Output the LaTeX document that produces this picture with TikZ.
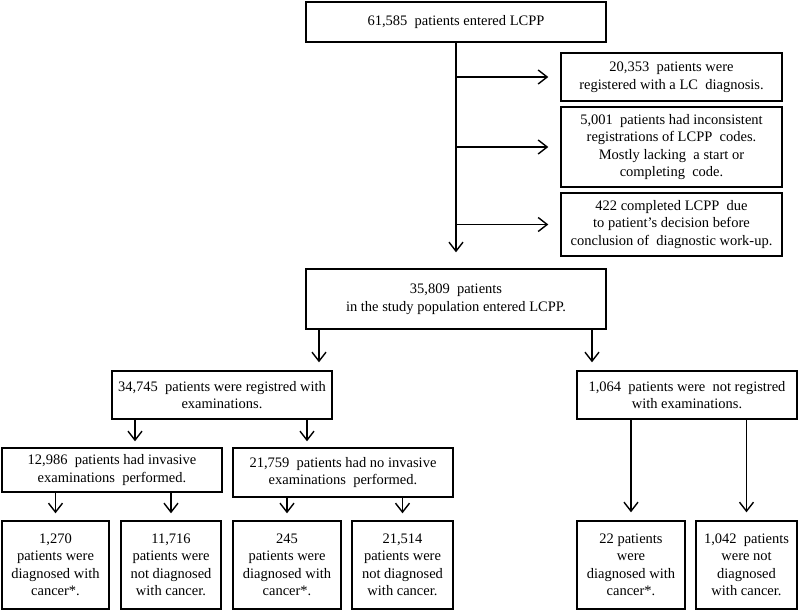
\documentclass[tikz,border=0pt]{standalone}
\usepackage{fontspec}
\setmainfont{Liberation Serif}
\usetikzlibrary{arrows.meta}
\begin{document}
\begin{tikzpicture}[x=1pt,y=-1pt,
  box/.style={draw, line width=1.4pt, align=center, inner sep=2pt,
    font=\fontsize{14.5}{17.5}\selectfont},
  arr/.style={draw, line width=1.4pt, -{Straight Barb[length=9pt,width=14pt,line width=1.4pt]}}]
\useasboundingbox[fill=white] (0,0) rectangle (800,612);
% boxes
\node[box, minimum width=300pt, minimum height=40pt] (top) at (456,22) {61,585\ \ patients entered LCPP};
\node[box, minimum width=221pt, minimum height=48pt] (r1) at (671.5,77) {20,353\ \ patients were\\registered with a LC\ \ diagnosis.};
\node[box, minimum width=221pt, minimum height=80pt] (r2) at (671.5,147) {5,001\ \ patients had inconsistent\\registrations of LCPP\ \ codes.\\Mostly lacking\ \ a start or\\completing\ \ code.};
\node[box, minimum width=221pt, minimum height=63pt] (r3) at (671.5,224.5) {422 completed LCPP\ \ due\\to patient's decision before\\conclusion of\ \ diagnostic work-up.};
\node[box, minimum width=300pt, minimum height=60pt] (study) at (456,299) {35,809\ \ patients\\in the study population entered LCPP.};
\node[box, minimum width=220pt, minimum height=48pt] (reg) at (222,395) {34,745\ \ patients were registred with\\examinations.};
\node[box, minimum width=220pt, minimum height=48pt] (notreg) at (687,395) {1,064\ \ patients were\ \ not registred\\with examinations.};
\node[box, minimum width=220pt, minimum height=44pt] (inv) at (112,470) {12,986\ \ patients had invasive\\examinations\ \ performed.};
\node[box, minimum width=220pt, minimum height=49pt] (noinv) at (343,472.5) {21,759\ \ patients had no invasive\\examinations\ \ performed.};
\node[box, minimum width=107pt, minimum height=88pt] (b1) at (55.5,565) {1,270\\patients were\\diagnosed with\\cancer*.};
\node[box, minimum width=100pt, minimum height=88pt] (b2) at (171,565) {11,716\\patients were\\not diagnosed\\with cancer.};
\node[box, minimum width=108pt, minimum height=88pt] (b3) at (287,565) {245\\patients were\\diagnosed with\\cancer*.};
\node[box, minimum width=101pt, minimum height=88pt] (b4) at (402.5,565) {21,514\\patients were\\not diagnosed\\with cancer.};
\node[box, minimum width=108pt, minimum height=88pt] (b5) at (631,565) {22 patients\\were\\diagnosed with\\cancer*.};
\node[box, minimum width=101pt, minimum height=88pt] (b6) at (746.5,565) {1,042\ \ patients\\were not\\diagnosed\\with cancer.};
% helper x positions
\coordinate (xa) at (319,0);
\coordinate (xb) at (592,0);
\coordinate (xc) at (135,0);
\coordinate (xd) at (307,0);
% connectors
\draw[arr, shorten >=16pt] (top) -- (study);
\draw[arr, shorten >=12pt] (top |- r1) -- (r1);
\draw[arr, shorten >=12pt] (top |- r2) -- (r2);
\draw[arr, shorten >=12pt] (top |- r3) -- (r3);
\draw[arr, shorten >=8pt] (study.south -| xa) -- (reg.north -| xa);
\draw[arr, shorten >=8pt] (study.south -| xb) -- (notreg.north -| xb);
\draw[arr, shorten >=6pt] (reg.south -| xc) -- (inv.north -| xc);
\draw[arr, shorten >=6pt] (reg.south -| xd) -- (noinv.north -| xd);
\draw[arr, shorten >=7pt] (inv.south -| b1) -- (b1);
\draw[arr, shorten >=7pt] (inv.south -| b2) -- (b2);
\draw[arr, shorten >=7pt] (noinv.south -| b3) -- (b3);
\draw[arr, shorten >=7pt] (noinv.south -| b4) -- (b4);
\draw[arr, shorten >=8pt] (notreg.south -| b5) -- (b5);
\draw[arr, shorten >=8pt] (notreg.south -| b6) -- (b6);
\end{tikzpicture}
\end{document}
